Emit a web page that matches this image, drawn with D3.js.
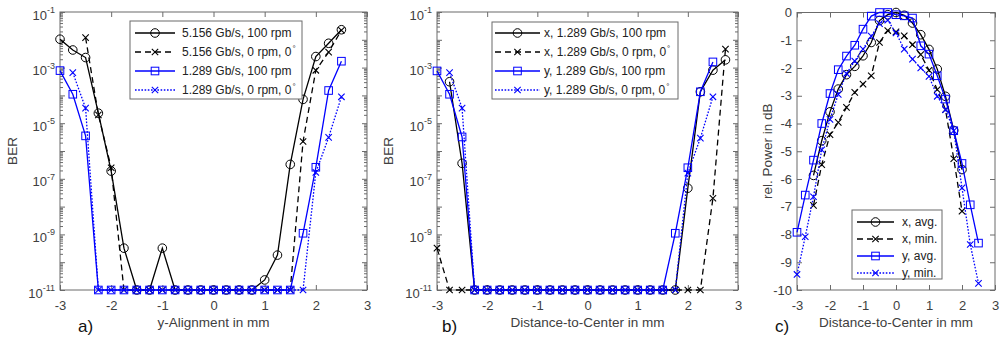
<!DOCTYPE html>
<html>
<head>
<meta charset="utf-8">
<script src="https://cdn.jsdelivr.net/npm/d3@7"></script>
<style>
  body { margin: 0; background: #fff; }
  text { font-family: "Liberation Sans", Arial, sans-serif; }
</style>
</head>
<body>
<svg id="chart" width="1004" height="338"></svg>
<script>
// ---- data ----
const xTickValues = [-3, -2, -1, 0, 1, 2, 3];
const berMajorExp = [-11, -10, -9, -8, -7, -6, -5, -4, -3, -2, -1];
const powerTicks = [0, -1, -2, -3, -4, -5, -6, -7, -8, -9, -10];

// a) y-Alignment
const legendA = ["5.156 Gb/s, 100 rpm", "5.156 Gb/s, 0 rpm, 0", "1.289 Gb/s, 100 rpm", "1.289 Gb/s, 0 rpm, 0"];
const xA1 = [-3, -2.75, -2.5, -2.25, -2, -1.75, -1.5, -1.25, -1, -0.75, -0.5, -0.25, 0, 0.25, 0.5, 0.75, 1, 1.25, 1.5, 1.75, 2, 2.25, 2.5];
const berA1 = [1.05e-2, 4.3e-3, 2.3e-3, 2.3e-5, 1.9e-7, 3.2e-10, 1e-11, 1e-11, 3.2e-10, 1e-11, 1e-11, 1e-11, 1e-11, 1e-11, 1e-11, 1e-11, 2.3e-11, 1.8e-10, 3.3e-7, 7.2e-5, 2.5e-3, 7.5e-3, 2.3e-2];
const xA2 = [-2.5, -2.25, -2, -1.75, -1.5, -1.25, -1, -0.75, -0.5, -0.25, 0, 0.25, 0.5, 0.75, 1, 1.25, 1.5, 1.75, 2, 2.25, 2.5];
const berA2 = [1.2e-2, 2e-5, 2.5e-7, 1e-11, 1e-11, 1e-11, 1e-11, 1e-11, 1e-11, 1e-11, 1e-11, 1e-11, 1e-11, 1e-11, 1e-11, 1e-11, 1e-11, 2.2e-6, 8e-4, 3.6e-3, 2.2e-2];
const xA3 = [-3, -2.75, -2.5, -2.25, -2, -1.75, -1.5, -1.25, -1, -0.75, -0.5, -0.25, 0, 0.25, 0.5, 0.75, 1, 1.25, 1.5, 1.75, 2, 2.25, 2.5];
const berA3 = [7.8e-4, 1.1e-4, 3.5e-6, 1e-11, 1e-11, 1e-11, 1e-11, 1e-11, 1e-11, 1e-11, 1e-11, 1e-11, 1e-11, 1e-11, 1e-11, 1e-11, 1e-11, 1e-11, 1e-11, 1.1e-9, 2.6e-7, 1.5e-4, 1.7e-3];
const xA4 = [-2.75, -2.5, -2.25, -2, -1.75, -1.5, -1.25, -1, -0.75, -0.5, -0.25, 0, 0.25, 0.5, 0.75, 1, 1.25, 1.5, 1.75, 2, 2.25, 2.5];
const berA4 = [6.6e-4, 3.5e-5, 1e-11, 1e-11, 1e-11, 1e-11, 1e-11, 1e-11, 1e-11, 1e-11, 1e-11, 1e-11, 1e-11, 1e-11, 1e-11, 1e-11, 1e-11, 1e-11, 1e-11, 1.7e-7, 3.1e-6, 8.9e-5];

// b) Distance-to-Center, BER
const legendB = ["x, 1.289 Gb/s, 100 rpm", "x, 1.289 Gb/s, 0 rpm, 0", "y, 1.289 Gb/s, 100 rpm", "y, 1.289 Gb/s, 0 rpm, 0"];
const xB1 = [-2.75, -2.5, -2.25, -2, -1.75, -1.5, -1.25, -1, -0.75, -0.5, -0.25, 0, 0.25, 0.5, 0.75, 1, 1.25, 1.5, 1.75, 2, 2.25, 2.5, 2.75];
const berB1 = [3.1e-4, 3.6e-7, 1e-11, 1e-11, 1e-11, 1e-11, 1e-11, 1e-11, 1e-11, 1e-11, 1e-11, 1e-11, 1e-11, 1e-11, 1e-11, 1e-11, 1e-11, 1e-11, 1e-11, 4.6e-8, 1.35e-4, 8.1e-4, 1.9e-3];
const xB2 = [-3, -2.75, -2.5, -2.25, -2, -1.75, -1.5, -1.25, -1, -0.75, -0.5, -0.25, 0, 0.25, 0.5, 0.75, 1, 1.25, 1.5, 1.75, 2, 2.25, 2.5, 2.75];
const berB2 = [3.2e-10, 1e-11, 1e-11, 1e-11, 1e-11, 1e-11, 1e-11, 1e-11, 1e-11, 1e-11, 1e-11, 1e-11, 1e-11, 1e-11, 1e-11, 1e-11, 1e-11, 1e-11, 1e-11, 1e-11, 1e-11, 1e-11, 2e-8, 4.6e-3];
const xB3 = [-3, -2.75, -2.5, -2.25, -2, -1.75, -1.5, -1.25, -1, -0.75, -0.5, -0.25, 0, 0.25, 0.5, 0.75, 1, 1.25, 1.5, 1.75, 2, 2.25, 2.5];
const berB3 = [7.6e-4, 1.1e-4, 3.2e-6, 1e-11, 1e-11, 1e-11, 1e-11, 1e-11, 1e-11, 1e-11, 1e-11, 1e-11, 1e-11, 1e-11, 1e-11, 1e-11, 1e-11, 1e-11, 1e-11, 1.1e-9, 2.5e-7, 1.35e-4, 1.6e-3];
const xB4 = [-2.75, -2.5, -2.25, -2, -1.75, -1.5, -1.25, -1, -0.75, -0.5, -0.25, 0, 0.25, 0.5, 0.75, 1, 1.25, 1.5, 1.75, 2, 2.25, 2.5];
const berB4 = [6.6e-4, 3.5e-5, 1e-11, 1e-11, 1e-11, 1e-11, 1e-11, 1e-11, 1e-11, 1e-11, 1e-11, 1e-11, 1e-11, 1e-11, 1e-11, 1e-11, 1e-11, 1e-11, 1e-11, 1.6e-7, 2.9e-6, 8.9e-5];

// c) Distance-to-Center, relative power
const legendC = ["x, avg.", "x, min.", "y, avg.", "y, min."];
const xC1 = [-2.5, -2.25, -2, -1.75, -1.5, -1.25, -1, -0.75, -0.5, -0.25, 0, 0.25, 0.5, 0.75, 1, 1.25, 1.5, 1.75, 2];
const powC1 = [-5.87, -4.62, -3.58, -2.76, -2.24, -1.94, -1.56, -1.08, -0.29, -0.08, 0, -0.1, -0.38, -0.8, -1.33, -2.04, -3.02, -4.25, -5.66];
const xC2 = [-2.5, -2.25, -2, -1.75, -1.5, -1.25, -1, -0.75, -0.5, -0.25, 0, 0.25, 0.5, 0.75, 1, 1.25, 1.5, 1.75, 2];
const powC2 = [-6.95, -5.48, -4.4, -3.96, -3.42, -2.88, -2.58, -2.28, -1.08, -0.65, -0.7, -0.84, -1.16, -1.52, -2.08, -2.78, -3.5, -5.27, -7.16];
const xC3 = [-3, -2.75, -2.5, -2.25, -2, -1.75, -1.5, -1.25, -1, -0.75, -0.5, -0.25, 0, 0.25, 0.5, 0.75, 1, 1.25, 1.5, 1.75, 2, 2.25, 2.5];
const powC3 = [-7.92, -6.58, -5.32, -4.0, -2.92, -2.06, -1.57, -1.18, -0.6, -0.13, 0, 0, -0.08, -0.12, -0.2, -1.2, -1.5, -2.28, -3.12, -4.26, -5.44, -6.93, -8.31];
const xC4 = [-3, -2.75, -2.5, -2.25, -2, -1.75, -1.5, -1.25, -1, -0.75, -0.5, -0.25, 0, 0.25, 0.5, 0.75, 1, 1.25, 1.5, 1.75, 2, 2.25, 2.5];
const powC4 = [-9.44, -8.08, -6.64, -4.95, -3.85, -2.95, -2.2, -1.75, -1.32, -0.85, -0.4, -0.28, -0.74, -1.32, -1.68, -2.0, -2.3, -3.02, -3.5, -4.26, -6.32, -8.36, -9.76];

// ---- styling ----
const axisColor = "#6b6b6b";
const textColor = "#404040";
const seriesStyle = [
  { color: "#000", dash: null, marker: "circle" },
  { color: "#000", dash: "6,4", marker: "x" },
  { color: "#0000ff", dash: null, marker: "square" },
  { color: "#0000ff", dash: "1.6,1.6", marker: "x" }
];

const svg = d3.select("#chart");

function drawMarker(g, type, cx, cy, color) {
  if (type === "circle") {
    g.append("circle").attr("cx", cx).attr("cy", cy).attr("r", 4.3)
      .attr("fill", "none").attr("stroke", color).attr("stroke-width", 1);
  } else if (type === "square") {
    g.append("rect").attr("x", cx - 3.8).attr("y", cy - 3.8).attr("width", 7.6).attr("height", 7.6)
      .attr("fill", "none").attr("stroke", color).attr("stroke-width", 1);
  } else {
    const s = 3.2;
    g.append("path").attr("d", `M${cx - s},${cy - s}L${cx + s},${cy + s}M${cx - s},${cy + s}L${cx + s},${cy - s}`)
      .attr("stroke", color).attr("stroke-width", 1.1);
  }
}

function styleAxis(sel) {
  sel.select(".domain").remove();
  sel.selectAll(".tick line").attr("stroke", axisColor);
  sel.selectAll("text").attr("fill", textColor).attr("font-size", 13)
    .attr("font-family", '"Liberation Sans", Arial, sans-serif');
}

function drawPanel(cfg) {
  const g = svg.append("g");
  const x = d3.scaleLinear().domain([-3, 3]).range([cfg.left, cfg.right]);
  const y = cfg.log
    ? d3.scaleLog().domain([1e-11, 1e-1]).range([cfg.bottom, cfg.top])
    : d3.scaleLinear().domain([-10, 0]).range([cfg.bottom, cfg.top]);

  // x ticks, bottom with labels, top mirrored
  g.append("g").attr("transform", `translate(0,${cfg.bottom})`)
    .call(d3.axisBottom(x).tickValues(xTickValues).tickSize(-5).tickPadding(11).tickFormat(d => String(d)))
    .call(styleAxis);
  g.append("g").attr("transform", `translate(0,${cfg.top})`)
    .call(d3.axisTop(x).tickValues(xTickValues).tickSize(-5).tickFormat(""))
    .call(styleAxis);

  if (cfg.log) {
    const majors = berMajorExp.map(e => Math.pow(10, e));
    const minors = [];
    berMajorExp.slice(0, -1).forEach(e => [2, 3, 4, 5, 6, 7, 8, 9].forEach(m => minors.push(m * Math.pow(10, e))));
    const left = g.append("g").attr("transform", `translate(${cfg.left},0)`)
      .call(d3.axisLeft(y).tickValues(majors).tickSize(-5).tickPadding(5).tickFormat(""))
      .call(styleAxis);
    left.selectAll(".tick").each(function (d) {
      const e = Math.round(Math.log10(d));
      if (e % 2 === 0) return;
      const t = d3.select(this).select("text").attr("dy", "0.55em");
      t.append("tspan").text("10");
      t.append("tspan").attr("dy", "-0.75em").attr("font-size", 9).text(String(e));
    });
    g.append("g").attr("transform", `translate(${cfg.left},0)`)
      .call(d3.axisLeft(y).tickValues(minors).tickSize(-3).tickFormat(""))
      .call(styleAxis);
    g.append("g").attr("transform", `translate(${cfg.right},0)`)
      .call(d3.axisRight(y).tickValues(majors).tickSize(-5).tickFormat(""))
      .call(styleAxis);
    g.append("g").attr("transform", `translate(${cfg.right},0)`)
      .call(d3.axisRight(y).tickValues(minors).tickSize(-3).tickFormat(""))
      .call(styleAxis);
  } else {
    g.append("g").attr("transform", `translate(${cfg.left},0)`)
      .call(d3.axisLeft(y).tickValues(powerTicks).tickSize(-5).tickPadding(5).tickFormat(d => String(d)))
      .call(styleAxis);
    g.append("g").attr("transform", `translate(${cfg.right},0)`)
      .call(d3.axisRight(y).tickValues(powerTicks).tickSize(-5).tickFormat(""))
      .call(styleAxis);
  }

  // box
  g.append("rect").attr("x", cfg.left).attr("y", cfg.top)
    .attr("width", cfg.right - cfg.left).attr("height", cfg.bottom - cfg.top)
    .attr("fill", "none").attr("stroke", axisColor).attr("stroke-width", 1);

  // series
  const line = d3.line().x(d => x(d[0])).y(d => y(d[1]));
  cfg.series.forEach((s, i) => {
    const st = seriesStyle[i];
    const pts = s.x.map((v, k) => [v, s.y[k]]);
    g.append("path").datum(pts).attr("d", line)
      .attr("fill", "none").attr("stroke", st.color).attr("stroke-width", 1.3)
      .attr("stroke-dasharray", st.dash);
    const mg = g.append("g");
    pts.forEach(p => drawMarker(mg, st.marker, x(p[0]), y(p[1]), st.color));
  });

  // axis labels
  g.append("text").attr("x", (cfg.left + cfg.right) / 2).attr("y", 327)
    .attr("text-anchor", "middle").attr("font-size", 13.5).attr("fill", textColor).text(cfg.xLabel);
  g.append("text").attr("transform", `translate(${cfg.yLabelX},${(cfg.top + cfg.bottom) / 2}) rotate(-90)`)
    .attr("text-anchor", "middle").attr("font-size", 13.5).attr("fill", textColor).text(cfg.yLabel);
  g.append("text").attr("x", cfg.tagX).attr("y", 332).attr("font-size", 17).attr("fill", "#111").text(cfg.tag);

  // legend
  const L = cfg.legend;
  const lg = g.append("g");
  lg.append("rect").attr("x", L.x).attr("y", L.y).attr("width", L.w).attr("height", L.h)
    .attr("fill", "#fff").attr("stroke", axisColor).attr("stroke-width", 1);
  L.labels.forEach((lab, i) => {
    const st = seriesStyle[i];
    const ry = L.y + L.first + i * L.step;
    lg.append("line").attr("x1", L.x0).attr("x2", L.x1).attr("y1", ry).attr("y2", ry)
      .attr("stroke", st.color).attr("stroke-width", 1.3).attr("stroke-dasharray", st.dash);
    drawMarker(lg, st.marker, (L.x0 + L.x1) / 2, ry, st.color);
    const t = lg.append("text").attr("x", L.tx).attr("y", ry).attr("dy", "0.35em")
      .attr("font-size", 12).attr("fill", "#222").text(lab);
    if (cfg.log && i % 2 === 1) {
      t.append("tspan").attr("dy", "-0.6em").attr("dx", 1).attr("font-size", 8).text("°");
    }
  });
}

drawPanel({
  left: 60, right: 367, top: 12, bottom: 290, log: true,
  xLabel: "y-Alignment in mm", yLabel: "BER", yLabelX: 17, tag: "a)", tagX: 78,
  series: [{ x: xA1, y: berA1 }, { x: xA2, y: berA2 }, { x: xA3, y: berA3 }, { x: xA4, y: berA4 }],
  legend: { x: 130, y: 21, w: 172, h: 78, first: 12, step: 19, x0: 135, x1: 175, tx: 182, labels: legendA }
});

drawPanel({
  left: 437, right: 738, top: 12, bottom: 290, log: true,
  xLabel: "Distance-to-Center in mm", yLabel: "BER", yLabelX: 393, tag: "b)", tagX: 442,
  series: [{ x: xB1, y: berB1 }, { x: xB2, y: berB2 }, { x: xB3, y: berB3 }, { x: xB4, y: berB4 }],
  legend: { x: 492, y: 22, w: 186, h: 77, first: 11, step: 19, x0: 495, x1: 540, tx: 544, labels: legendB }
});

drawPanel({
  left: 797, right: 995, top: 12.5, bottom: 290, log: false,
  xLabel: "Distance-to-Center in mm", yLabel: "rel. Power in dB", yLabelX: 772, tag: "c)", tagX: 775,
  series: [{ x: xC1, y: powC1 }, { x: xC2, y: powC2 }, { x: xC3, y: powC3 }, { x: xC4, y: powC4 }],
  legend: { x: 852, y: 210, w: 90, h: 69, first: 12, step: 17, x0: 857, x1: 894, tx: 902, labels: legendC }
});
</script>
</body>
</html>
